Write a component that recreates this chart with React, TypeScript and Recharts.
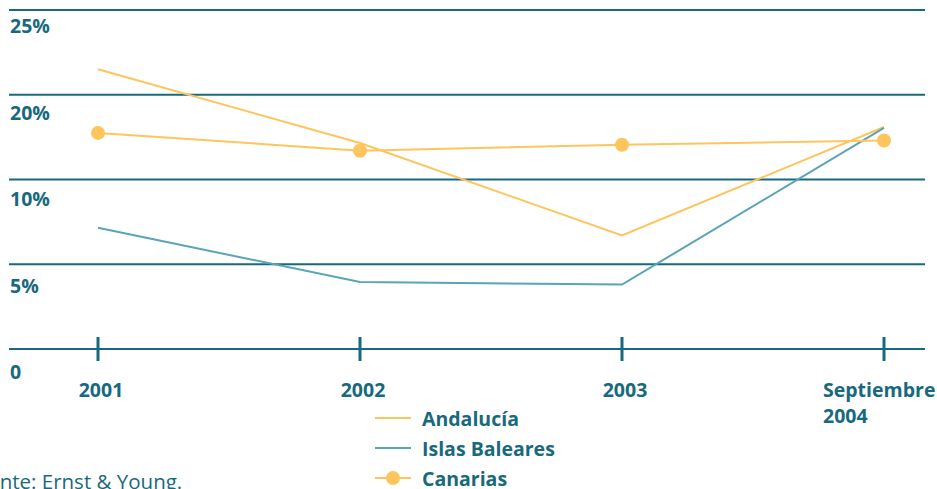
import React from "react";
import { CartesianGrid, Line, LineChart, XAxis, YAxis } from "recharts";

const periods = ["2001", "2002", "2003", "Septiembre\n2004"];
const andalucia = [16.5, 12.15, 6.7, 13.1];
const baleares = [7.15, 3.95, 3.8, 13.05];
const canarias = [12.75, 11.7, 12.05, 12.3];
const yTicks = [0, 5, 10, 15, 20];
const yLabels = ["0", "5%", "10%", "20%", "25%"];

const TEAL = "#17697d";
const YELLOW = "#fdc55c";
const BLUE = "#5aa4b7";
const FONT = "'Open Sans', sans-serif";
const FS = 19.5;

const data = periods.map((p, i) => ({
  period: p,
  andalucia: andalucia[i],
  baleares: baleares[i],
  canarias: canarias[i],
}));

const renderYTick = (props: any) => {
  const { y, payload } = props;
  const idx = yTicks.indexOf(payload.value);
  const dy = 23 + ((20 - payload.value) / 20) * 7;
  return (
    <text x={10} y={y + dy} fill={TEAL} fontFamily={FONT} fontWeight={700} fontSize={FS}>
      {yLabels[idx]}
    </text>
  );
};

const renderXTick = (props: any) => {
  const { x, y, payload } = props;
  const lines = String(payload.value).split("\n");
  const multi = lines.length > 1;
  const tx = multi ? x - 61 : x + 3;
  return (
    <g>
      <line x1={x} x2={x} y1={y - 12} y2={y + 12} stroke={TEAL} strokeWidth={3} />
      <text
        x={tx}
        y={y + 48}
        textAnchor={multi ? "start" : "middle"}
        fill={TEAL}
        fontFamily={FONT}
        fontWeight={700}
        fontSize={FS}
      >
        {lines.map((l, i) => (
          <tspan key={i} x={tx} dy={i === 0 ? 0 : 26}>
            {l}
          </tspan>
        ))}
      </text>
    </g>
  );
};

const legendItems = [
  { name: "Andalucía", color: YELLOW, dot: false },
  { name: "Islas Baleares", color: BLUE, dot: false },
  { name: "Canarias", color: YELLOW, dot: true },
];

export default function App() {
  return (
    <div style={{ position: "absolute", left: 0, top: 0, width: 937, height: 489, overflow: "hidden", background: "#fff" }}>
      <LineChart width={937} height={489} data={data} margin={{ top: 10, right: 12, bottom: 0, left: 8 }}>
        <CartesianGrid vertical={false} stroke={TEAL} strokeWidth={2} />
        <XAxis
          dataKey="period"
          padding={{ left: 89, right: 41 }}
          axisLine={false}
          tickLine={false}
          tickSize={0}
          tickMargin={0}
          height={140}
          interval={0}
          tick={renderXTick}
        />
        <YAxis
          width={1}
          domain={[0, 20]}
          ticks={yTicks}
          axisLine={false}
          tickLine={false}
          tick={renderYTick}
        />
        <Line dataKey="andalucia" stroke={YELLOW} strokeWidth={2} dot={false} isAnimationActive={false} />
        <Line dataKey="baleares" stroke={BLUE} strokeWidth={2} dot={false} isAnimationActive={false} />
        <Line
          dataKey="canarias"
          stroke={YELLOW}
          strokeWidth={2}
          dot={{ r: 7, fill: YELLOW, stroke: "none" }}
          activeDot={false}
          isAnimationActive={false}
        />
      </LineChart>
      <div
        style={{
          position: "absolute",
          left: 375,
          top: 403,
          fontFamily: FONT,
          fontWeight: 700,
          fontSize: FS,
          color: TEAL,
        }}
      >
        {legendItems.map((it) => (
          <div key={it.name} style={{ display: "flex", alignItems: "center", height: 30 }}>
            <svg width={47} height={20}>
              <line x1={0} x2={36} y1={10} y2={10} stroke={it.color} strokeWidth={2} />
              {it.dot && <circle cx={18} cy={10} r={7} fill={it.color} />}
            </svg>
            <span>{it.name}</span>
          </div>
        ))}
      </div>
      <div
        style={{
          position: "absolute",
          left: -35,
          top: 468,
          fontFamily: FONT,
          fontSize: 20.5,
          color: TEAL,
          whiteSpace: "nowrap",
          lineHeight: "26px",
        }}
      >
        Fuente: Ernst &amp; Young.
      </div>
    </div>
  );
}
